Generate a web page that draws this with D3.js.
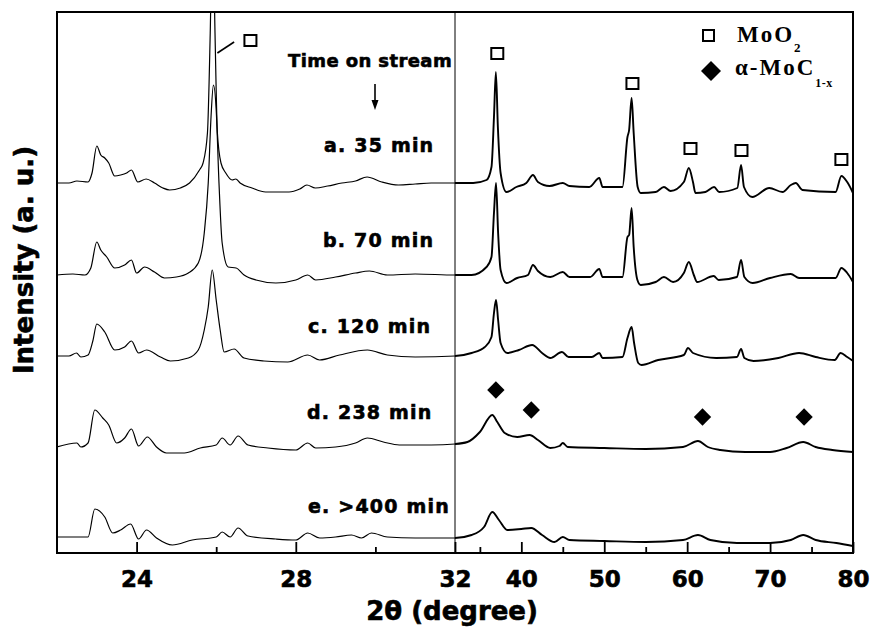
<!DOCTYPE html>
<html>
<head>
<meta charset="utf-8">
<script src="https://cdn.jsdelivr.net/npm/d3@7"></script>
<style>
  body { margin: 0; background: #fff; }
  svg text { font-family: "DejaVu Sans", sans-serif; font-weight: bold; fill: #000; }
  .heavy { stroke: #000; stroke-width: 0.6px; }
</style>
</head>
<body>
<div id="chart"></div>
<script>
// XRD patterns: [2theta, intensity (a.u., already stacked)]
const traceA = [[22,370],[22.3,370],[22.5,372],[22.78,371],[22.88,380],[23.0,407],[23.1,398],[23.2,395],[23.3,390],[23.45,377],[23.6,378],[23.75,380],[23.87,383],[24.03,371],[24.24,374],[24.45,370],[24.66,365],[24.83,363],[25.1,365],[25.33,370],[25.58,383],[25.67,390],[25.78,420],[25.85,520],[25.91,640],[25.97,520],[26.03,420],[26.12,390],[26.24,380],[26.4,373],[26.49,374],[26.6,370],[26.9,365],[27.24,361],[27.83,361],[28.1,364],[28.28,368],[28.49,365],[28.8,367],[29.16,370],[29.5,372],[29.79,376],[30.16,371],[30.58,368],[31.0,369],[31.4,370],[32.0,370],
  [34.2,370],[35.8,373],[36.4,386],[36.7,436],[36.93,481],[37.17,426],[37.5,380],[38.2,361],[39.4,366],[40.6,370],[41.4,378],[42.0,371],[43.4,367],[45.0,370],[45.8,367],[48.2,366],[49.4,375],[49.8,366],[52.2,366],[52.8,416],[53.0,423],[53.3,455],[53.55,420],[54.03,366],[54.4,360],[56.2,361],[57.2,366],[58.0,362],[59.6,371],[60.2,385],[60.7,371],[61.0,360],[62.2,361],[63.25,366],[63.85,361],[66.05,365],[66.5,388],[66.85,366],[67.85,356],[69.9,365],[71.5,361],[72.5,368],[73.1,370],[73.9,363],[77.9,361],[78.6,377],[79.3,371],[80,360]];

const traceB = [[22,278],[22.4,279],[22.7,278],[22.85,285],[23.0,311],[23.1,303],[23.25,296],[23.45,285],[23.7,288],[23.87,293],[24.0,280],[24.2,286],[24.45,281],[24.7,275],[25.0,276],[25.3,280],[25.55,290],[25.7,320],[25.8,370],[25.87,436],[25.93,468],[26.0,443],[26.07,370],[26.15,310],[26.3,286],[26.5,285],[26.7,278],[27.0,273],[27.5,270],[28.0,273],[28.3,278],[28.5,273],[29.0,276],[29.5,280],[29.85,282],[30.3,278],[31.0,279],[32.0,278],
  [34.0,278],[35.8,286],[36.4,296],[36.7,340],[36.95,370],[37.2,320],[37.5,283],[38.2,270],[39.5,275],[40.8,278],[41.4,288],[42.0,282],[43.5,276],[45.0,281],[45.8,276],[48.3,276],[49.4,284],[49.8,276],[52.2,276],[52.8,316],[53.0,318],[53.3,345],[53.55,306],[54.0,273],[54.4,268],[56.2,271],[57.2,276],[58.3,271],[59.6,280],[60.2,291],[60.8,278],[61.2,271],[63.2,277],[63.8,273],[66.0,276],[66.5,293],[66.9,276],[67.9,270],[70,275],[72.5,279],[73.5,275],[77.9,275],[78.6,285],[79.3,280],[80,271]];

const traceC = [[22,197],[22.3,197],[22.49,200],[22.6,196],[22.78,198],[22.9,212],[23.0,229],[23.2,221],[23.45,203],[23.7,206],[23.87,212],[24.05,200],[24.25,203],[24.6,196],[24.85,192],[25.3,195],[25.55,203],[25.7,223],[25.8,246],[25.9,283],[26.0,253],[26.1,223],[26.2,201],[26.45,204],[26.7,195],[27.2,192],[27.8,191],[28.3,198],[28.6,193],[29.1,198],[29.8,203],[30.3,198],[31.0,196],[32,197],
  [34.0,200],[35.6,206],[36.4,216],[36.7,240],[36.95,253],[37.2,233],[37.5,210],[38.3,200],[39.7,203],[41.3,208],[42.5,200],[43.5,195],[44.9,201],[45.7,196],[48.5,196],[49.4,200],[49.8,195],[52.2,196],[52.8,215],[53.3,226],[53.6,210],[54.1,190],[54.5,188],[56.5,193],[59.6,198],[60.1,205],[60.7,200],[63.5,195],[66.0,196],[66.5,204],[66.9,195],[68,192],[71,195],[73.5,200],[75.5,196],[77.8,193],[78.5,200],[79.3,196],[80,192]];

const traceD = [[22,106],[22.5,110],[22.6,106],[22.78,110],[22.95,143],[23.15,135],[23.3,128],[23.5,110],[23.7,115],[23.87,124],[24.05,107],[24.27,116],[24.5,106],[24.75,100],[25.2,100],[25.6,105],[26.0,108],[26.15,115],[26.35,108],[26.55,117],[26.8,108],[27.3,105],[28.0,103],[28.3,110],[28.5,105],[29.0,106],[29.5,110],[29.8,115],[30.2,111],[30.6,108],[31.4,108],[32,109],
  [33.5,111],[35,121],[36.5,138],[37.1,131],[38.0,120],[39.5,116],[41.0,118],[42.0,113],[43.5,105],[44.6,107],[45.0,110],[45.6,106],[50,105],[55,104],[59.5,106],[61.3,112],[62.5,106],[64.0,103],[67,101],[70,101],[72,105],[74,111],[75.5,106],[77.5,103],[80,101]];

const traceE = [[22,16],[22.5,16],[22.78,16],[22.95,44],[23.2,36],[23.4,20],[23.6,23],[23.85,29],[24.05,14],[24.25,23],[24.5,15],[24.9,8],[25.4,13],[26.0,16],[26.15,21],[26.35,16],[26.55,25],[26.8,17],[27.5,14],[28.0,13],[28.3,20],[28.6,15],[29.0,16],[29.4,18],[29.65,15],[29.9,20],[30.3,16],[31.0,15],[32,15],
  [34,18],[35.5,26],[36.5,41],[37.3,33],[38.3,23],[40,24],[41.2,25],[42.5,18],[44,11],[45,16],[45.8,13],[50,12],[55,11],[59.5,13],[61.3,18],[62.8,13],[66,10],[70,10],[72.5,13],[74,18],[75.5,13],[78,10],[80,7]];

const traces = [traceA, traceB, traceC, traceD, traceE];
const traceLabels = ["a. 35 min", "b. 70 min", "c. 120 min", "d. 238 min", "e. >400 min"];

// phase markers [2theta, intensity]
const moo2Marks = [[26.86,512],[37.1,499],[53.4,469],[60.4,404],[66.55,402],[78.6,393]];
const mocMarks = [[36.93,163],[41.2,143],[61.85,136],[74.1,136]];

const majorTicks = [24, 28, 32, 40, 50, 60, 70, 80];
const minorTicks = [26, 30, 35, 45, 55, 65, 75];

// layout
const W = 875, H = 631;
const plot = { left: 57, right: 853, top: 12, bottom: 553, brk: 455 };
const labelPos = [[324,152],[323,247],[308,333],[307,419],[308,513]];

const svg = d3.select("#chart").append("svg")
  .attr("width", W).attr("height", H);

// broken axis: 22-32 on the left half, 32-80 on the right half
const x = d3.scaleLinear().domain([22, 32, 80]).range([plot.left, plot.brk, plot.right]);
const y = d3.scaleLinear().domain([0, 541]).range([plot.bottom, plot.top]);

const defs = svg.append("defs");
defs.append("clipPath").attr("id", "clipL").append("rect")
  .attr("x", plot.left).attr("y", plot.top)
  .attr("width", plot.brk - plot.left).attr("height", plot.bottom - plot.top);
defs.append("clipPath").attr("id", "clipR").append("rect")
  .attr("x", plot.brk).attr("y", plot.top)
  .attr("width", plot.right - plot.brk).attr("height", plot.bottom - plot.top);

const line = d3.line()
  .x(d => x(d[0])).y(d => y(d[1]))
  .curve(d3.curveMonotoneX);

// left half drawn finer, right half (compressed scale) heavier
[["clipL", 1.2], ["clipR", 1.9]].forEach(([clip, sw]) => {
  svg.append("g").attr("clip-path", `url(#${clip})`)
    .selectAll("path")
    .data(traces)
    .enter().append("path")
    .attr("d", line)
    .attr("fill", "none")
    .attr("stroke", "#000")
    .attr("stroke-width", sw)
    .attr("stroke-linejoin", "round");
});

// frame and break line
svg.append("rect")
  .attr("x", plot.left).attr("y", plot.top)
  .attr("width", plot.right - plot.left).attr("height", plot.bottom - plot.top)
  .attr("fill", "none").attr("stroke", "#000").attr("stroke-width", 2);
svg.append("line")
  .attr("x1", plot.brk).attr("x2", plot.brk)
  .attr("y1", plot.top).attr("y2", plot.bottom)
  .attr("stroke", "#000").attr("stroke-width", 1);

// bottom axis, ticks pointing inward
const axMajor = svg.append("g")
  .attr("transform", `translate(0,${plot.bottom})`)
  .call(d3.axisBottom(x).tickValues(majorTicks).tickSizeInner(-11).tickSizeOuter(0).tickPadding(18));
const axMinor = svg.append("g")
  .attr("transform", `translate(0,${plot.bottom})`)
  .call(d3.axisBottom(x).tickValues(minorTicks).tickSizeInner(-6).tickSizeOuter(0).tickFormat(""));
[axMajor, axMinor].forEach(g => {
  g.select(".domain").remove();
  g.selectAll("line").attr("stroke-width", 1.8);
});
axMajor.selectAll("text")
  .attr("class", "heavy")
  .style("font-size", "23px")
  .style("font-family", "'DejaVu Sans', sans-serif")
  .style("font-weight", "bold");

// axis titles
svg.append("text")
  .attr("class", "heavy")
  .attr("x", 452).attr("y", 620)
  .attr("text-anchor", "middle")
  .style("font-size", "26px")
  .text("2θ (degree)");
svg.append("text")
  .attr("class", "heavy")
  .attr("transform", "translate(33,260) rotate(-90)")
  .attr("text-anchor", "middle")
  .style("font-size", "26px")
  .text("Intensity (a. u.)");

// trace labels
svg.selectAll(".lbl")
  .data(traceLabels)
  .enter().append("text")
  .attr("class", "lbl heavy")
  .attr("x", (d, i) => labelPos[i][0])
  .attr("y", (d, i) => labelPos[i][1])
  .style("font-size", "19px")
  .style("letter-spacing", "1.2px")
  .text(d => d);

svg.append("text")
  .attr("class", "heavy")
  .attr("x", 288).attr("y", 67)
  .style("font-size", "18px")
  .style("letter-spacing", "0.4px")
  .text("Time on stream");
svg.append("line")
  .attr("x1", 375).attr("x2", 375).attr("y1", 84).attr("y2", 104)
  .attr("stroke", "#000").attr("stroke-width", 1.6);
svg.append("path")
  .attr("d", "M371.5,100 L375,110 L378.5,100 Z")
  .attr("fill", "#000");

// MoO2 open squares
svg.selectAll(".sq")
  .data(moo2Marks)
  .enter().append("rect")
  .attr("class", "sq")
  .attr("x", d => x(d[0]) - 6).attr("y", d => y(d[1]) - 6)
  .attr("width", 12).attr("height", 11)
  .attr("fill", "#fff").attr("stroke", "#000").attr("stroke-width", 2);

// leader line from the big 26° peak to its square
svg.append("line")
  .attr("x1", x(26.03)).attr("y1", y(500))
  .attr("x2", x(26.45)).attr("y2", y(511))
  .attr("stroke", "#000").attr("stroke-width", 1.6);

// alpha-MoC diamonds
const diamond = d3.symbol().type(d3.symbolSquare).size(150);
svg.selectAll(".dm")
  .data(mocMarks)
  .enter().append("path")
  .attr("class", "dm")
  .attr("d", diamond)
  .attr("transform", d => `translate(${x(d[0])},${y(d[1])}) rotate(45)`)
  .attr("fill", "#000");

// legend
const lg = svg.append("g");
lg.append("rect").attr("x", 703).attr("y", 30).attr("width", 11).attr("height", 11)
  .attr("fill", "#fff").attr("stroke", "#000").attr("stroke-width", 2);
lg.append("path").attr("d", d3.symbol().type(d3.symbolSquare).size(200))
  .attr("transform", "translate(711,71) rotate(45)").attr("fill", "#000");

const t1 = lg.append("text").attr("x", 737).attr("y", 42)
  .style("font-family", "'Liberation Serif', serif")
  .style("font-size", "23px").style("letter-spacing", "2px");
t1.append("tspan").text("MoO");
t1.append("tspan").attr("dy", 10).style("font-size", "13px").text("2");

const t2 = lg.append("text").attr("x", 735).attr("y", 75)
  .style("font-family", "'Liberation Serif', serif")
  .style("font-size", "23px").style("letter-spacing", "2px");
t2.append("tspan").text("α-MoC");
t2.append("tspan").attr("dy", 12).style("font-size", "12px").style("letter-spacing", "0.5px").text("1-x");
</script>
</body>
</html>
